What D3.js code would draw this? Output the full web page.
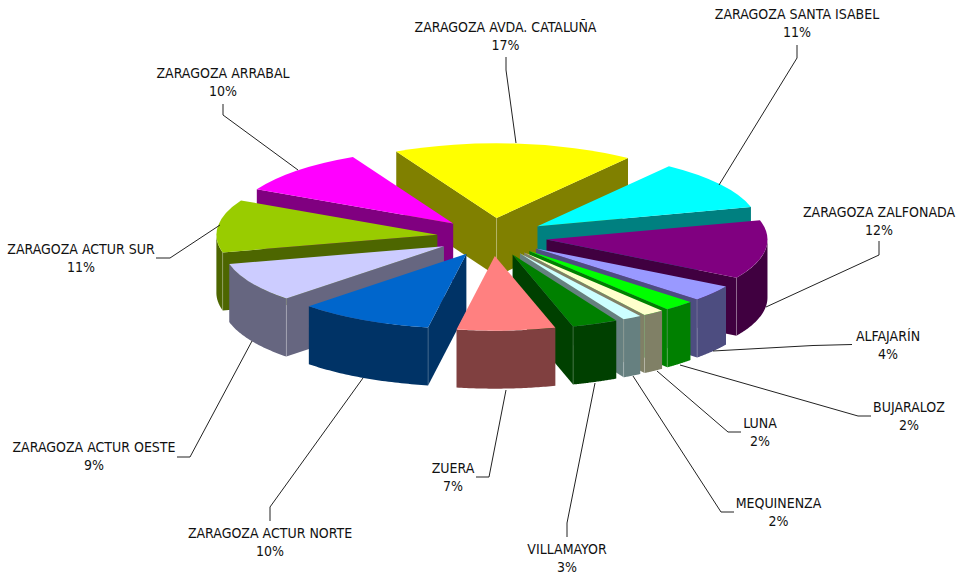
<!DOCTYPE html>
<html>
<head>
<meta charset="utf-8">
<title>Pie 3D</title>
<style>
    html, body { margin: 0; padding: 0; background: #fff; }
    svg { display: block; }
    text { font-family: "DejaVu Sans Condensed", "DejaVu Sans", sans-serif; font-size: 14px; fill: #111; text-anchor: middle; }
</style>
</head>
<body>
<svg id="container" width="956" height="576"></svg>
<script src="https://d3js.org/d3.v7.min.js"></script>
<script>
    // clockwise, starting with the yellow slice
    let names = ["ZARAGOZA AVDA. CATALUÑA", "ZARAGOZA SANTA ISABEL", "ZARAGOZA ZALFONADA", "ALFAJARÍN", "BUJARALOZ", "LUNA",
        "MEQUINENZA", "VILLAMAYOR", "ZUERA", "ZARAGOZA ACTUR NORTE", "ZARAGOZA ACTUR OESTE", "ZARAGOZA ACTUR SUR", "ZARAGOZA ARRABAL"]
    // the printed percentages
    let labels = [17, 11, 12, 4, 2, 2, 2, 3, 7, 10, 9, 11, 10]
    // slice sizes as measured on the picture
    let shares = [17.64, 10.7, 12.69, 3.47, 2.28, 1.56, 1.39, 3.36, 7.19, 9.86, 8.56, 11.39, 9.92]
    let topColors = ["#ffff00", "#00ffff", "#800080", "#9999ff", "#00ff00", "#ffffcc", "#ccffff", "#008000", "#ff8080", "#0066cc", "#ccccff", "#99cc00", "#ff00ff"]
    let wallColors = ["#808000", "#008080", "#400040", "#4d4d80", "#008000", "#808066", "#668080", "#004000", "#804040", "#003366", "#666680", "#4d6600", "#800080"]

    // layout of the label text and leader lines
    let labelX = [505.5, 797, 879, 888, 909, 760, 778.5, 567, 453, 270, 94, 81, 223]
    let labelY = [32, 19, 217, 341, 412, 428, 508, 554, 473, 538, 452, 254, 78]
    let leaders = [
        [[506, 57], [506, 70], [516, 143]],
        [[797, 45], [797, 58], [719, 185]],
        [[879, 241], [879, 255], [766, 307]],
        [[852, 344.5], [813, 345.5], [713, 351]],
        [[871, 416], [858, 416], [680, 365]],
        [[741, 432], [728, 432], [657, 371]],
        [[734, 512], [721, 512], [633, 376]],
        [[567, 537], [567, 523], [595, 383]],
        [[476, 477], [489, 477], [506, 390]],
        [[270, 521], [270, 507], [363, 378]],
        [[177, 457], [190, 457], [252, 341]],
        [[156, 258], [170, 258], [220, 225]],
        [[223, 104], [223, 115], [298, 170]]
    ]

    let cx = 492, cy = 237
    let radius = 221, tilt = 0.338, depth = 58
    let explodeX = 55, explodeY = 19
    let rad = Math.PI / 180

    let svg = d3.select("#container")

    let pie = d3.pie()
        .value(d => d.share)
        .sort(null)
        .startAngle(-27 * rad)
        .endAngle(333 * rad)

    let data = names.map((name, i) => ({
        name: name,
        share: shares[i],
        top: topColors[i],
        wall: wallColors[i]
    }))

    let arc = d3.arc().innerRadius(0).outerRadius(radius)
    let line = d3.line()

    // slices further back are painted first
    let slices = pie(data).map(d => {
        d.mid = (d.startAngle + d.endAngle) / 2
        d.ox = cx + explodeX * Math.sin(d.mid)
        d.oy = cy - explodeY * Math.cos(d.mid)
        return d
    }).sort((a, b) => Math.cos(b.mid) - Math.cos(a.mid))

    function rim(d, angle, drop) {
        return [d.ox + radius * Math.sin(angle), d.oy - radius * tilt * Math.cos(angle) + drop]
    }

    function cutFace(d, angle) {
        return [[d.ox, d.oy], rim(d, angle, 0), rim(d, angle, depth), [d.ox, d.oy + depth]]
    }

    function outerWall(d) {
        let from = Math.max(d.startAngle, 90 * rad), to = Math.min(d.endAngle, 270 * rad)
        if (to <= from) return null
        let steps = d3.range(0, 41).map(i => from + (to - from) * i / 40)
        return steps.map(a => rim(d, a, 0)).concat(steps.slice().reverse().map(a => rim(d, a, depth)))
    }

    let g = svg.selectAll(".slice")
        .data(slices)
        .enter()
        .append("g")
        .attr("class", "slice")

    g.each(function (d) {
        let el = d3.select(this)
        let seams = []
        let startOn = Math.sin(d.startAngle) < 0, endOn = Math.sin(d.endAngle) > 0
        if (startOn) el.append("path").attr("d", line(cutFace(d, d.startAngle)) + "Z").attr("fill", d.data.wall)
        if (endOn) el.append("path").attr("d", line(cutFace(d, d.endAngle)) + "Z").attr("fill", d.data.wall)
        let wall = outerWall(d)
        if (wall) el.append("path").attr("d", line(wall) + "Z").attr("fill", d.data.wall)

        if (startOn && endOn) seams.push([[d.ox, d.oy], [d.ox, d.oy + depth]])
        if (wall && startOn) seams.push([rim(d, d.startAngle, 0), rim(d, d.startAngle, depth)])
        if (wall && endOn) seams.push([rim(d, d.endAngle, 0), rim(d, d.endAngle, depth)])
        seams.forEach(s => el.append("path")
            .attr("d", line(s))
            .attr("fill", "none")
            .attr("stroke", "#fff")
            .attr("stroke-opacity", 0.22))

        el.append("path")
            .attr("d", arc(d))
            .attr("transform", `translate(${d.ox},${d.oy}) scale(1,${tilt})`)
            .attr("fill", d.data.top)
    })

    svg.selectAll(".leader")
        .data(leaders)
        .enter()
        .append("path")
        .attr("class", "leader")
        .attr("d", d => line(d))
        .attr("fill", "none")
        .attr("stroke", "#222")
        .attr("stroke-width", 1)

    let text = svg.selectAll(".label")
        .data(names)
        .enter()
        .append("text")
        .attr("class", "label")
        .attr("y", (d, i) => labelY[i])
    text.append("tspan")
        .attr("x", (d, i) => labelX[i])
        .text(d => d)
    text.append("tspan")
        .attr("x", (d, i) => labelX[i])
        .attr("dy", 18)
        .text((d, i) => labels[i] + "%")
</script>
</body>
</html>
